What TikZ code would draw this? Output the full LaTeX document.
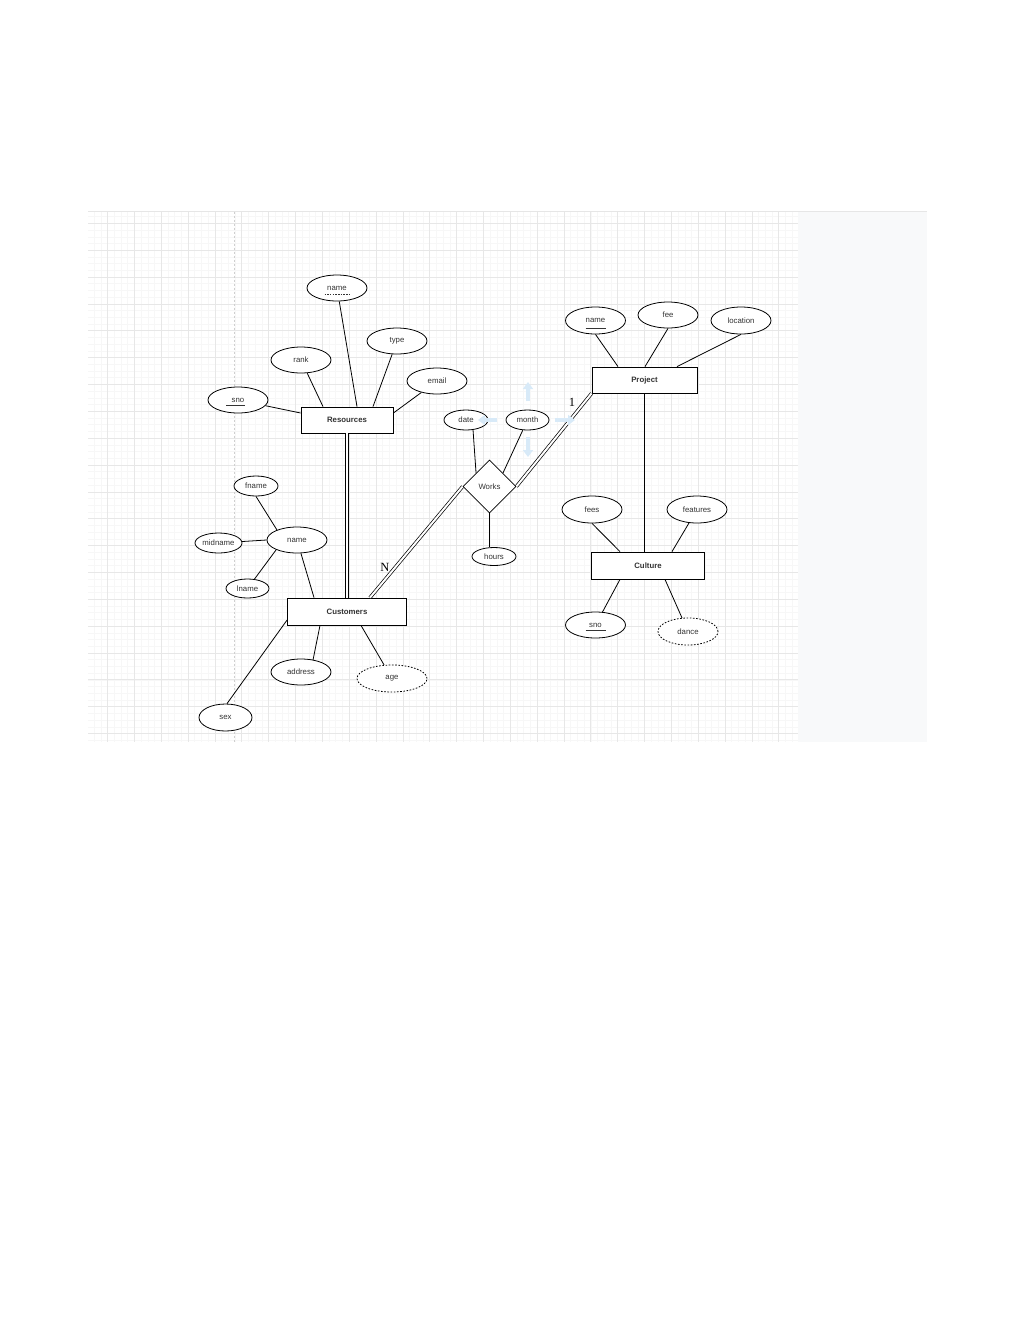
\documentclass[tikz,border=0pt]{standalone}
\usepackage{fontspec}
\setmainfont{Liberation Sans}
\newfontfamily\cardfont{Liberation Serif}
\usetikzlibrary{shapes.geometric,calc,arrows.meta}
\definecolor{txt}{HTML}{333333}
\definecolor{minorg}{HTML}{F7F7F7}
\definecolor{majorg}{HTML}{E7E7E7}
\definecolor{panelc}{HTML}{F8F9FA}
\definecolor{hoverc}{HTML}{D8EAF8}
\definecolor{borderc}{HTML}{E6E6E6}
\definecolor{guidec}{HTML}{CFCFCF}
\begin{document}
\begin{tikzpicture}[x=1pt,y=-1pt,
  attr/.style={ellipse,draw=black,fill=white,line width=0.8pt,inner sep=0pt,minimum width=60pt,minimum height=26pt,font=\fontsize{7.8}{9}\selectfont,text=txt},
  wattr/.style={attr,dash pattern=on 1.6pt off 1.6pt},
  entity/.style={rectangle,draw=black,fill=white,line width=0.8pt,inner sep=0pt,minimum height=26pt,font=\fontsize{7.8}{9}\selectfont\bfseries,text=txt},
  rel/.style={diamond,draw=black,fill=white,line width=0.8pt,inner sep=0pt,minimum width=53pt,minimum height=53pt,aspect=1,font=\fontsize{7.8}{9}\selectfont,text=txt},
  conn/.style={draw=black,line width=0.8pt},
  dbl/.style={draw=black,line width=0.7pt,double=white,double distance=2pt},
  card/.style={font=\cardfont\fontsize{12.5}{14}\selectfont,text=black,inner sep=0pt},
  hov/.style={draw=hoverc,line width=4pt,-{Triangle[width=10pt,length=7pt]}},
  keyline/.style={draw=txt,line width=0.6pt},
  pkeyline/.style={draw=txt,line width=0.6pt,dash pattern=on 1.5pt off 1.2pt}
]
\useasboundingbox (0,0) rectangle (1015,1318);
\fill[white] (0,0) rectangle (1015,1318);
% canvas
\fill[panelc] (798,211.5) rectangle (927,742);
\foreach \j in {10,...,114} {
  \pgfmathsetmacro\xx{26.9+6.7125*\j}
  \draw[minorg,line width=0.45pt] (\xx,211.5) -- (\xx,742);
}
\foreach \j in {-1,...,77} {
  \pgfmathsetmacro\yy{223.3+6.7125*\j}
  \draw[minorg,line width=0.45pt] (88,\yy) -- (798,\yy);
}
\foreach \k in {3,...,28} {
  \pgfmathsetmacro\xx{26.9+26.85*\k}
  \draw[majorg,line width=0.55pt] (\xx,211.5) -- (\xx,742);
}
\foreach \k in {0,...,19} {
  \pgfmathsetmacro\yy{223.3+26.85*\k}
  \draw[majorg,line width=0.55pt] (88,\yy) -- (798,\yy);
}
\draw[borderc,line width=0.7pt] (88,211.5) -- (927,211.5);
\draw[guidec,line width=0.7pt,dash pattern=on 2pt off 2pt] (234.5,211.5) -- (234.5,742);

% entities
\node[entity,minimum width=92pt] (res) at (347,420) {Resources};
\node[entity,minimum width=105pt] (proj) at (644.5,380) {Project};
\node[entity,minimum width=119pt,minimum height=27pt] (cust) at (347,611.5) {Customers};
\node[entity,minimum width=113pt,minimum height=27pt] (cult) at (648,565.5) {Culture};
\node[rel] (works) at (489.5,486.5) {Works};

% Resources attributes
\node[attr] (rname) at (337,288) {name};
\node[attr] (rtype) at (397,341) {type};
\node[attr] (rrank) at (301,360) {rank};
\node[attr] (remail) at (437,381) {email};
\node[attr] (rsno) at (238,400) {sno};
% Project attributes
\node[attr,minimum height=27pt] (pname) at (595.5,320.5) {name};
\node[attr] (pfee) at (668,315) {fee};
\node[attr,minimum height=27pt] (ploc) at (741,320.5) {location};
% Culture attributes
\node[attr,minimum height=27pt] (cfees) at (592,509.5) {fees};
\node[attr,minimum height=27pt] (cfeat) at (697,509.5) {features};
\node[attr] (csno) at (595.5,625) {sno};
\node[wattr,minimum height=27pt] (cdance) at (688,631.5) {dance};
% Works attributes
\node[attr,minimum width=44pt,minimum height=20pt] (wdate) at (466,420) {date};
\node[attr,minimum width=43pt,minimum height=20pt] (wmonth) at (527.5,420) {month};
\node[attr,minimum width=44pt,minimum height=18pt] (whours) at (494,556.5) {hours};
% Customers attributes
\node[attr,minimum width=44pt,minimum height=20pt] (kfname) at (256,486) {fname};
\node[attr] (kname) at (297,540) {name};
\node[attr,minimum width=47pt,minimum height=20pt] (kmid) at (218.5,543) {midname};
\node[attr,minimum width=43pt,minimum height=19pt] (klname) at (247.5,588.5) {lname};
\node[attr] (kaddr) at (301,672) {address};
\node[wattr,minimum width=70pt,minimum height=27pt] (kage) at (392,678.5) {age};
\node[attr,minimum width=53pt,minimum height=27pt] (ksex) at (225.5,717.5) {sex};

% key underlines
\draw[pkeyline] ($(rname.center)+(-12.5,6.3)$) -- ($(rname.center)+(12.5,6.3)$);
\draw[keyline] ($(rsno.center)+(-12,5)$) -- ($(rsno.center)+(7,5)$);
\draw[keyline] ($(pname.center)+(-10,7.5)$) -- ($(pname.center)+(10,7.5)$);
\draw[keyline] ($(csno.center)+(-10,5.7)$) -- ($(csno.center)+(10,5.7)$);

% connectors: Resources
\path[conn] (rsno) -- ($(res.west)+(0,-7)$);
\path[conn] (rrank) -- ($(res.north)+(-24,0)$);
\path[conn] (rname) -- ($(res.north)+(10,0)$);
\path[conn] (rtype) -- ($(res.north)+(26,0)$);
\path[conn] (remail) -- ($(res.east)+(0,-7)$);
\path[dbl] (res.south) -- (cust.north);
% Project
\path[conn] (pname.south) -- ($(proj.north)+(-26.5,0)$);
\path[conn] (pfee.south) -- ($(proj.north)+(0.5,0)$);
\path[conn] (ploc.south) -- ($(proj.north)+(32.5,0)$);
\path[conn] (proj.south) -- (proj.south |- cult.north);
% Works
\path[dbl] (works.east) -- (proj.south west);
\path[dbl] (works.west) -- ($(cust.north)+(23,0)$);
\path[conn] ($(wdate.center)+(7,9.5)$) -- (works.north west);
\path[conn] (wmonth) -- (works.north east);
\path[conn] (works.south) -- (works.south |- whours.north);
% Culture
\path[conn] (cfees.south) -- ($(cult.north)+(-28,0)$);
\path[conn] (cfeat) -- ($(cult.north)+(24,0)$);
\path[conn] (csno) -- ($(cult.south)+(-28,0)$);
\path[conn] (cdance) -- ($(cult.south)+(17,0)$);
% Customers
\path[conn] (kfname.south) -- ($(kname.center)+(-20,-10)$);
\path[conn] (kmid) -- (kname.west);
\path[conn] (klname) -- ($(kname.center)+(-21,10)$);
\path[conn] (kname) -- ($(cust.north)+(-33,0)$);
\path[conn] ($(kaddr.center)+(12,-12)$) -- ($(cust.south)+(-27,0)$);
\path[conn] (kage) -- ($(cust.south)+(14,0)$);
\path[conn] ($(ksex.north)+(1.5,0)$) -- ($(cust.west)+(0,8.5)$);

% cardinalities
\node[card] (c1) at (572,402) {1};
\node[card] (cn) at (385,567) {N};

% hover arrows around month
\coordinate (hu1) at (528,401); \coordinate (hu2) at (528,382);
\coordinate (hd1) at (528,437); \coordinate (hd2) at (528,457);
\coordinate (hl1) at (497,420); \coordinate (hl2) at (478,420);
\coordinate (hr1) at (555,420); \coordinate (hr2) at (575,420);
\path[hov] (hu1) -- (hu2);
\path[hov] (hd1) -- (hd2);
\path[hov] (hl1) -- (hl2);
\path[hov] (hr1) -- (hr2);
\end{tikzpicture}
\end{document}
